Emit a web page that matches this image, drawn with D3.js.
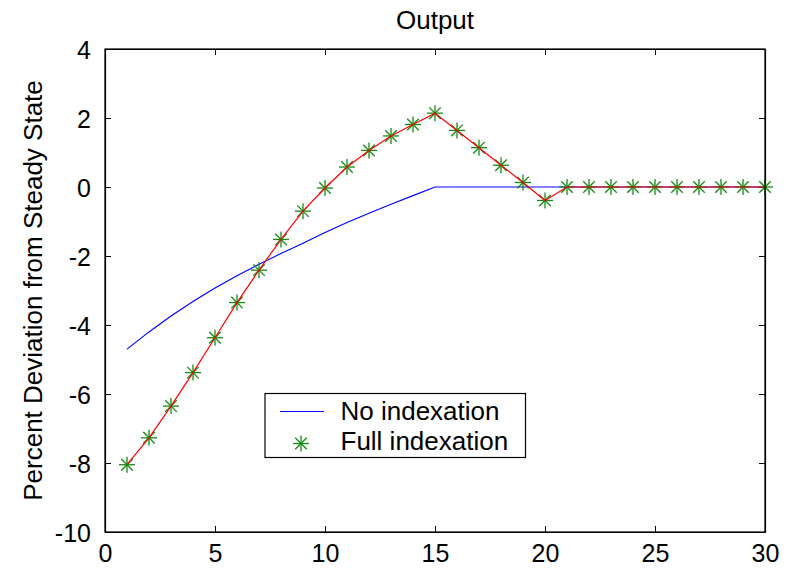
<!DOCTYPE html>
<html>
<head>
<meta charset="utf-8">
<script src="https://cdn.jsdelivr.net/npm/d3@7"></script>
<style>
  html, body { margin: 0; padding: 0; background: #fff; }
  svg { display: block; }
  text { font-family: "Liberation Sans", Arial, sans-serif; fill: #000; }
</style>
</head>
<body>
<svg id="chart" width="790" height="570"></svg>
<script>
const periods = d3.range(1, 31);
const noIndexation = [-4.70, -4.20, -3.74, -3.32, -2.93, -2.57, -2.24, -1.93, -1.63, -1.32, -1.03, -0.76, -0.50, -0.25, 0,
                      0, 0, 0, 0, 0, 0, 0, 0, 0, 0, 0, 0, 0, 0, 0];
const fullIndexation = [-8.05, -7.27, -6.35, -5.38, -4.37, -3.35, -2.41, -1.52, -0.70, -0.03, 0.58, 1.06, 1.48, 1.81, 2.14,
                        1.64, 1.14, 0.63, 0.13, -0.39, 0, 0, 0, 0, 0, 0, 0, 0, 0, 0];
const xTicks = [0, 5, 10, 15, 20, 25, 30];
const yTicks = [-10, -8, -6, -4, -2, 0, 2, 4];
const seriesNames = ["No indexation", "Full indexation"];
const titleText = "Output";
const yLabelText = "Percent Deviation from Steady State";

const svg = d3.select("#chart");
const m = { left: 105, right: 765, top: 49, bottom: 532 };
const x = d3.scaleLinear().domain([0, 30]).range([m.left, m.right]);
const y = d3.scaleLinear().domain([-10, 4]).range([m.bottom, m.top]);
const fs = 25;
const fmt = d => String(d);

// plot background
svg.append("rect").attr("x", m.left).attr("y", m.top)
  .attr("width", m.right - m.left).attr("height", m.bottom - m.top).attr("fill", "#fff");

// axes with inward ticks
const tl = 6;
const gx = svg.append("g").attr("transform", `translate(0,${m.bottom})`)
  .call(d3.axisBottom(x).tickValues(xTicks).tickSizeInner(-tl).tickSizeOuter(0).tickPadding(12).tickFormat(fmt));
const gxTop = svg.append("g").attr("transform", `translate(0,${m.top})`)
  .call(d3.axisTop(x).tickValues(xTicks).tickSizeInner(-tl).tickSizeOuter(0).tickFormat(""));
const gy = svg.append("g").attr("transform", `translate(${m.left},0)`)
  .call(d3.axisLeft(y).tickValues(yTicks).tickSizeInner(-tl).tickSizeOuter(0).tickPadding(14).tickFormat(fmt));
const gyR = svg.append("g").attr("transform", `translate(${m.right},0)`)
  .call(d3.axisRight(y).tickValues(yTicks).tickSizeInner(-tl).tickSizeOuter(0).tickFormat(""));
[gx, gxTop, gy, gyR].forEach(g => {
  g.selectAll("path.domain").attr("stroke", "#000").attr("stroke-width", 1.2);
  g.selectAll(".tick line").attr("stroke", "#000").attr("stroke-width", 1);
  g.selectAll("text").attr("font-size", fs).attr("font-family", "Liberation Sans, Arial, sans-serif").attr("fill", "#000");
});
gx.selectAll("text").attr("dy", "0.71em");
gy.selectAll("text").attr("dy", "0.36em");

// lines
const line = d3.line().x((d, i) => x(periods[i])).y(d => y(d));
svg.append("path").datum(noIndexation).attr("d", line)
  .attr("fill", "none").attr("stroke", "#0000ff").attr("stroke-width", 1.2);

// star marker
function star(g, cx, cy, r) {
  const s = g.append("g").attr("transform", `translate(${cx},${cy})`)
    .attr("stroke", "#138a13").attr("stroke-width", 1.3);
  const k = r * 0.72;
  [[-r,0,r,0],[0,-r,0,r],[-k,-k,k,k],[-k,k,k,-k]].forEach(a =>
    s.append("line").attr("x1", a[0]).attr("y1", a[1]).attr("x2", a[2]).attr("y2", a[3]));
}
const starG = svg.append("g");
fullIndexation.forEach((v, i) => star(starG, x(periods[i]), y(v), 8));

svg.append("path").datum(fullIndexation).attr("d", line)
  .attr("fill", "none").attr("stroke", "#ff0000").attr("stroke-width", 1.2);

// frame on top
svg.append("rect").attr("x", m.left).attr("y", m.top)
  .attr("width", m.right - m.left).attr("height", m.bottom - m.top)
  .attr("fill", "none").attr("stroke", "#000").attr("stroke-width", 1.2);

// title
svg.append("text").attr("x", (m.left + m.right) / 2).attr("y", 29)
  .attr("text-anchor", "middle").attr("font-size", 26).text(titleText);

// y label
svg.append("text").attr("transform", `translate(42,${(m.top + m.bottom) / 2}) rotate(-90)`)
  .attr("text-anchor", "middle").attr("font-size", 26).text(yLabelText);

// legend
const lg = svg.append("g");
lg.append("rect").attr("x", 265).attr("y", 393.5).attr("width", 260.5).attr("height", 64)
  .attr("fill", "#fff").attr("stroke", "#000").attr("stroke-width", 1.2);
lg.append("line").attr("x1", 280).attr("x2", 324).attr("y1", 411.5).attr("y2", 411.5)
  .attr("stroke", "#0000ff").attr("stroke-width", 1.2);
star(lg, 301, 443.5, 8);
lg.append("text").attr("x", 340.5).attr("y", 419.5).attr("font-size", 26).text(seriesNames[0]);
lg.append("text").attr("x", 340.5).attr("y", 449.5).attr("font-size", 26).text(seriesNames[1]);
</script>
</body>
</html>
